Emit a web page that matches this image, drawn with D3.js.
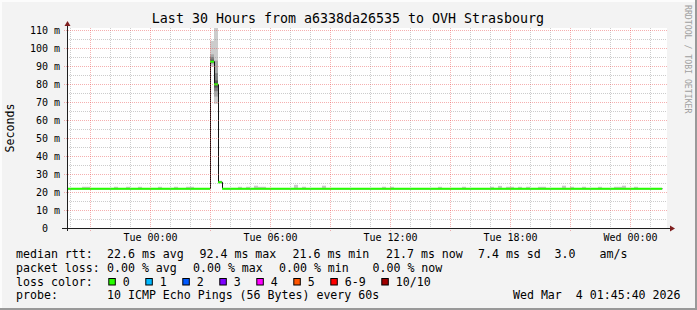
<!DOCTYPE html>
<html>
<head>
<meta charset="UTF-8">
<title>Last 30 Hours from a6338da26535 to OVH Strasbourg</title>
<script src="https://cdn.jsdelivr.net/npm/d3@7"></script>
<style>
  body { margin: 0; background: #f3f3f3; }
  svg { display: block; font-family: "DejaVu Sans Mono", monospace; }
  text { white-space: pre; }
</style>
</head>
<body>
<svg width="697" height="310"></svg>
<script>
const title = "Last 30 Hours from a6338da26535 to OVH Strasbourg";
const parse = d3.timeParse("%Y-%m-%d %H:%M");
const timeRange = ["2026-03-02 19:51", "2026-03-04 01:51"];

// median rtt as steps of 12 minute bins: [from, to, ms]
const medianSteps = [
  ["2026-03-02 19:36", "2026-03-03 03:00", 21.8],
  ["2026-03-03 03:00", "2026-03-03 03:12", 92.4],
  ["2026-03-03 03:12", "2026-03-03 03:24", 79.8],
  ["2026-03-03 03:24", "2026-03-03 03:36", 25.4],
  ["2026-03-03 03:36", "2026-03-04 01:36", 21.8]
];

// the 10 sorted pings of the slow bins (ms)
const spikePings = [
  ["2026-03-03 03:00", [89.5, 91, 91.8, 92.2, 92.4, 92.4, 93.5, 95, 96.5, 104]],
  ["2026-03-03 03:12", [69, 73, 76, 78, 79.8, 79.8, 82, 86, 93, 120]],
  ["2026-03-03 03:24", [24.9, 25, 25.2, 25.3, 25.4, 25.4, 25.5, 25.7, 25.9, 26.3]]
];

// bins where the slowest ping sticks out over the median: [bin start, ms]
const smokeTops = [
  ["2026-03-02 20:36", 22.9], ["2026-03-02 20:48", 22.9], ["2026-03-02 22:12", 22.9],
  ["2026-03-02 22:48", 22.9], ["2026-03-02 23:24", 22.9], ["2026-03-03 00:24", 22.9],
  ["2026-03-03 01:12", 22.9], ["2026-03-03 01:48", 22.9], ["2026-03-03 02:00", 22.9],
  ["2026-03-03 04:24", 22.9], ["2026-03-03 04:48", 22.9], ["2026-03-03 05:12", 23.5],
  ["2026-03-03 05:24", 22.9], ["2026-03-03 05:36", 22.9], ["2026-03-03 07:12", 24.0],
  ["2026-03-03 07:36", 22.9], ["2026-03-03 08:36", 23.5], ["2026-03-03 11:36", 22.9],
  ["2026-03-03 12:00", 22.9], ["2026-03-03 14:24", 22.9], ["2026-03-03 15:36", 22.9],
  ["2026-03-03 17:00", 22.9], ["2026-03-03 17:24", 23.4], ["2026-03-03 17:48", 22.9],
  ["2026-03-03 18:00", 22.9], ["2026-03-03 18:24", 22.9], ["2026-03-03 18:48", 22.9],
  ["2026-03-03 19:24", 22.9], ["2026-03-03 19:36", 22.9], ["2026-03-03 20:36", 23.5],
  ["2026-03-03 21:00", 22.9], ["2026-03-03 21:36", 22.9], ["2026-03-03 22:24", 22.9],
  ["2026-03-03 23:12", 22.9], ["2026-03-03 23:24", 22.9], ["2026-03-03 23:36", 23.5],
  ["2026-03-04 00:12", 22.9]
];
const smokeFloor = 21.6;

const rttLabels = ["avg", "max", "min", "now", "sd"];
const rttValues = [22.6, 92.4, 21.6, 21.7, 7.4];
const amPerS = 3.0;
const lossLabels = ["avg", "max", "min", "now"];
const lossValues = [0, 0, 0, 0];
const lossColorLabels = ["0", "1", "2", "3", "4", "5", "6-9", "10/10"];
const lossColors = ["#26ff00", "#00b8ff", "#0059ff", "#7e00ff", "#ff00ff", "#ff5500", "#ff0000", "#a10000"];
const probeText = "10 ICMP Echo Pings (56 Bytes) every 60s";
const stamp = "Wed Mar  4 01:45:40 2026";

const W = 697, H = 310;
const pL = 67, pR = 667, pT = 28, pB = 228;
const bin = 12 * 60 * 1000;

const svg = d3.select("svg");

// background with rrdtool style shading
svg.append("rect").attr("width", W).attr("height", H).attr("fill", "#f3f3f3");
svg.append("path").attr("d", `M0,0H${W}V2H2V${H}H0Z`).attr("fill", "#fcfcfc");
svg.append("path").attr("d", `M${W},${H}H0V${H - 2}H${W - 2}V0H${W}Z`).attr("fill", "#999");

const x = d3.scaleTime().domain(timeRange.map(parse)).range([pL, pR]);
const y = d3.scaleLinear().domain([0, (pB - pT) / 1.8]).range([pB, pT]);

svg.append("defs").append("clipPath").attr("id", "plot")
  .append("rect").attr("x", pL).attr("y", pT).attr("width", pR - pL).attr("height", pB - pT);

svg.append("rect").attr("x", pL).attr("y", pT).attr("width", pR - pL).attr("height", pB - pT)
  .attr("fill", "#fff");

const g = svg.append("g").attr("clip-path", "url(#plot)");

// light smoke along the base line
g.selectAll(".smoke").data(smokeTops).enter().append("rect")
  .attr("x", d => x(parse(d[0])))
  .attr("width", d => x(new Date(+parse(d[0]) + bin)) - x(parse(d[0])))
  .attr("y", d => y(d[1]))
  .attr("height", d => y(smokeFloor) - y(d[1]))
  .attr("fill", "#c8c8c8");

// smoke of the slow bins, darker towards the median
const shades = ["#cccccc", "#a8a8a8", "#808080", "#555555", "#333333"];
spikePings.forEach(([t, p]) => {
  const t0 = parse(t);
  shades.forEach((c, i) => {
    g.append("rect")
      .attr("x", x(t0))
      .attr("width", x(new Date(+t0 + bin)) - x(t0))
      .attr("y", y(p[9 - i]))
      .attr("height", y(p[i]) - y(p[9 - i]))
      .attr("fill", c);
  });
});

// median: thin black step line + green (loss 0) segments
const stepPts = medianSteps.map(d => [parse(d[0]), d[2]]);
const lastStep = medianSteps[medianSteps.length - 1];
stepPts.push([parse(lastStep[1]), lastStep[2]]);

g.append("path")
  .datum(stepPts)
  .attr("fill", "none")
  .attr("stroke", "#111")
  .attr("stroke-width", 1)
  .attr("d", d3.line().x(d => Math.round(x(d[0])) + 0.5).y(d => y(d[1])).curve(d3.curveStepAfter));

g.selectAll(".med").data(medianSteps).enter().append("line")
  .attr("x1", d => x(parse(d[0])))
  .attr("x2", d => x(parse(d[1])))
  .attr("y1", d => y(d[2]))
  .attr("y2", d => y(d[2]))
  .attr("stroke", lossColors[0])
  .attr("stroke-width", 2);

// grid on top, as rrdtool does
const gridC = "rgba(143,143,143,0.45)", mgridC = "rgba(233,80,80,0.45)";
const yMajor = y.ticks(11), yMinor = y.ticks(22).filter(v => !yMajor.includes(v));
const xMajor = x.ticks(d3.timeHour.every(3));
const xMinor = x.ticks(d3.timeHour.every(1)).filter(t => t.getHours() % 3 !== 0);

const grid = svg.append("g").attr("stroke-dasharray", "1,1").attr("stroke-width", 1);
grid.selectAll(".hmin").data(yMinor).enter().append("line")
  .attr("x1", pL).attr("x2", pR).attr("y1", d => y(d) + 0.5).attr("y2", d => y(d) + 0.5)
  .attr("stroke", gridC);
grid.selectAll(".vmin").data(xMinor).enter().append("line")
  .attr("x1", d => Math.round(x(d)) + 0.5).attr("x2", d => Math.round(x(d)) + 0.5).attr("y1", pT).attr("y2", pB)
  .attr("stroke", gridC);
grid.selectAll(".hmaj").data(yMajor.filter(v => v > 0)).enter().append("line")
  .attr("x1", pL - 3).attr("x2", pR).attr("y1", d => y(d) + 0.5).attr("y2", d => y(d) + 0.5)
  .attr("stroke", mgridC);
grid.selectAll(".vmaj").data(xMajor).enter().append("line")
  .attr("x1", d => Math.round(x(d)) + 0.5).attr("x2", d => Math.round(x(d)) + 0.5).attr("y1", pT).attr("y2", pB + 3)
  .attr("stroke", mgridC);

// axes lines and arrows
svg.append("line").attr("x1", pL - 5).attr("x2", pR + 4).attr("y1", pB + 0.5).attr("y2", pB + 0.5)
  .attr("stroke", "#1f1f1f");
svg.append("line").attr("x1", pL + 0.5).attr("x2", pL + 0.5).attr("y1", pB + 3).attr("y2", pT - 4)
  .attr("stroke", "#1f1f1f");
svg.append("path").attr("d", `M${pL + 0.5},${pT - 7}l3,5h-6z`).attr("fill", "#7f1f1f");
svg.append("path").attr("d", `M${pR + 8},${pB + 0.5}l-5,-3v6z`).attr("fill", "#7f1f1f");

// tick labels
const yAxis = svg.append("g").attr("transform", `translate(${pL - 7},0)`)
  .call(d3.axisLeft(y).tickValues(yMajor).tickSize(0).tickPadding(0)
    .tickFormat(v => v === 0 ? "0  " : v + " m"));
yAxis.select(".domain").remove();
yAxis.selectAll("text").attr("font-family", "DejaVu Sans Mono").attr("font-size", 10).attr("fill", "#000");

const xAxis = svg.append("g").attr("transform", `translate(0,${pB})`)
  .call(d3.axisBottom(x).tickValues(x.ticks(d3.timeHour.every(6))).tickSize(0).tickPadding(6)
    .tickFormat(d3.timeFormat("%a %H:%M")));
xAxis.select(".domain").remove();
xAxis.selectAll("text").attr("font-family", "DejaVu Sans Mono").attr("font-size", 10).attr("fill", "#000");

// titles
svg.append("text").attr("x", 348).attr("y", 23).attr("text-anchor", "middle")
  .attr("font-size", 13.3).text(title);
svg.append("text").attr("transform", "translate(14,128) rotate(-90)").attr("text-anchor", "middle")
  .attr("font-size", 11.6).text("Seconds");
svg.append("text").attr("transform", "translate(685,5) rotate(90)")
  .attr("font-size", 8.2).attr("fill", "#a0a0a0").text("RRDTOOL / TOBI OETIKER");

// legend
const lg = svg.append("g").attr("font-size", 11.6).attr("fill", "#000");
const row = [258, 272, 285.5, 299];
const rttCols = [107, 199.5, 292.5, 386, 478];
const lossCols = [107, 193, 279, 372.5];

lg.append("text").attr("x", 16).attr("y", row[0]).text("median rtt:");
rttValues.forEach((v, i) => {
  lg.append("text").attr("x", rttCols[i]).attr("y", row[0]).text(v.toFixed(1) + " ms " + rttLabels[i]);
});
lg.append("text").attr("x", 554.5).attr("y", row[0]).text(amPerS.toFixed(1));
lg.append("text").attr("x", 599.5).attr("y", row[0]).text("am/s");

lg.append("text").attr("x", 16).attr("y", row[1]).text("packet loss:");
lossValues.forEach((v, i) => {
  lg.append("text").attr("x", lossCols[i]).attr("y", row[1]).text(v.toFixed(2) + " % " + lossLabels[i]);
});

lg.append("text").attr("x", 16).attr("y", row[2]).text("loss color:");
let lx = 108.3;
lossColorLabels.forEach((lab, i) => {
  lg.append("rect").attr("x", lx + 0.5).attr("y", row[2] - 7).attr("width", 6.5).attr("height", 6.5)
    .attr("fill", lossColors[i]).attr("stroke", "#000").attr("stroke-width", 1);
  lg.append("text").attr("x", lx + 14.5).attr("y", row[2]).text(lab);
  lx += 30 + 7 * lab.length;
});

lg.append("text").attr("x", 16).attr("y", row[3]).text("probe:");
lg.append("text").attr("x", 107).attr("y", row[3]).text(probeText);
lg.append("text").attr("x", 680.5).attr("y", row[3]).attr("text-anchor", "end").text(stamp);
</script>
</body>
</html>
